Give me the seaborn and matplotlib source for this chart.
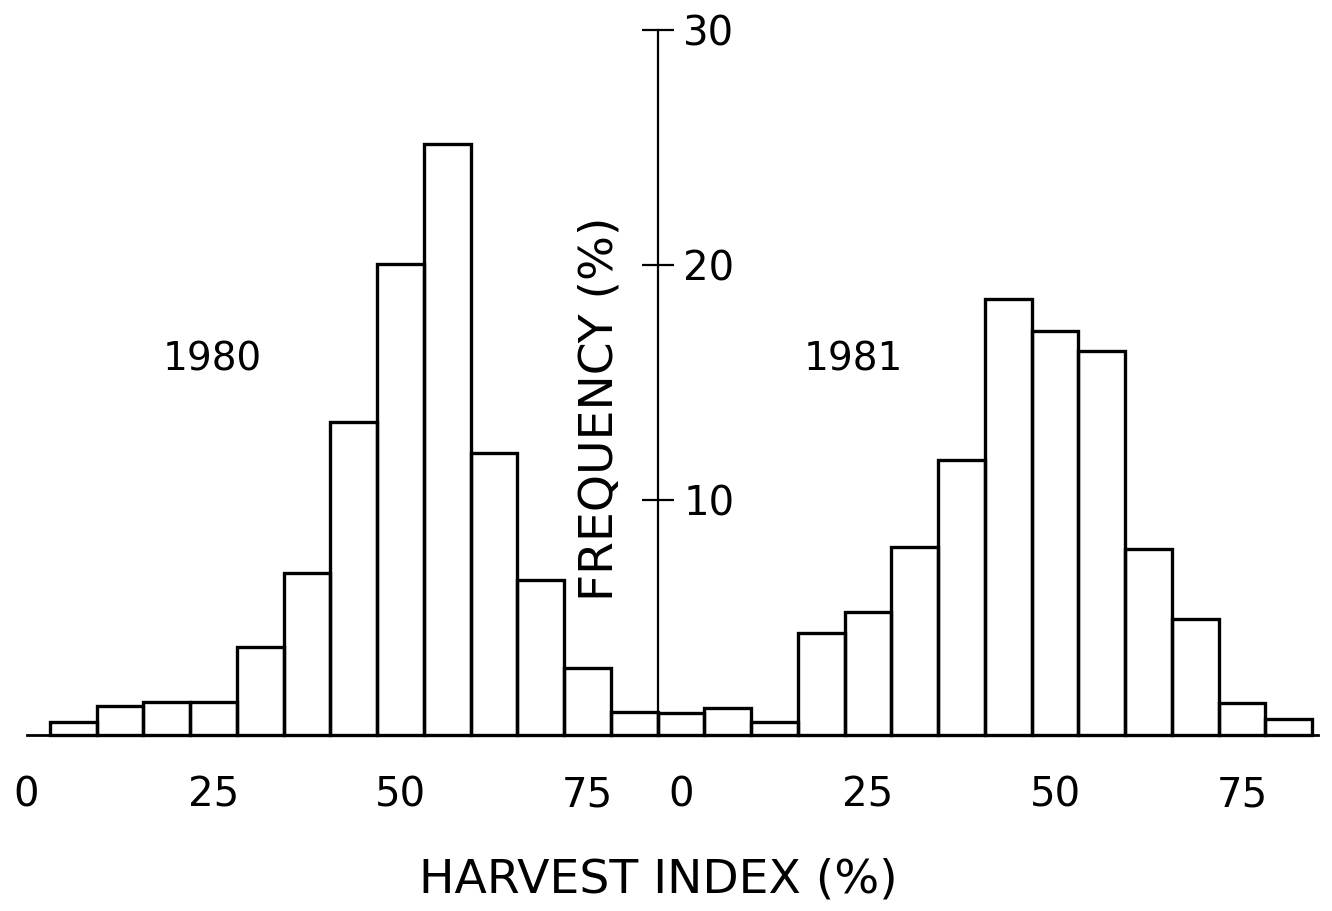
import numpy as np
import pandas as pd
import matplotlib
matplotlib.use("Agg")
import matplotlib.pyplot as plt
import seaborn as sns

# ---- data ----
bin_width = 6.25
hi_1980 = [6.25, 12.5, 18.75, 25.0, 31.25, 37.5, 43.75, 50.0, 56.25, 62.5, 68.75, 75.0, 81.25]
freq_1980 = [0.55, 1.25, 1.42, 1.42, 3.75, 6.9, 13.3, 20.05, 25.15, 12.0, 6.6, 2.85, 0.97]
hi_1981 = [0.0, 6.25, 12.5, 18.75, 25.0, 31.25, 37.5, 43.75, 50.0, 56.25, 62.5, 68.75, 75.0, 81.25]
freq_1981 = [0.93, 1.13, 0.54, 4.33, 5.22, 7.99, 11.72, 18.54, 17.2, 16.32, 7.91, 4.94, 1.36, 0.67]
x_ticks = [0, 25, 50, 75]
x_ticklabels = ["0", "25", "50", "75"]
y_ticks = [10, 20, 30]
y_ticklabels = ["10", "20", "30"]
panel_offset = 87.5  # position of the 1981 panel origin on the shared axis

sns.set_style("white")
plt.rcParams["font.family"] = ["DejaVu Sans"]
plt.rcParams["text.color"] = "black"
plt.rcParams["xtick.color"] = "black"
plt.rcParams["ytick.color"] = "black"

fig = plt.figure(figsize=(13.32, 9.11), dpi=100)
ax = fig.add_axes([0, 0, 1, 1])

def edges(centers, shift=0.0):
    c = np.asarray(centers, dtype=float) + shift
    return [float(v) for v in np.append(c - bin_width / 2, c[-1] + bin_width / 2)]

df80 = pd.DataFrame({"hi": np.asarray(hi_1980, dtype=float), "freq": freq_1980})
df81 = pd.DataFrame({"hi": np.asarray(hi_1981, dtype=float) + panel_offset, "freq": freq_1981})

sns.histplot(data=df80, x="hi", weights="freq", bins=edges(hi_1980),
             fill=False, color="black", linewidth=2.4, ax=ax)
sns.histplot(data=df81, x="hi", weights="freq", bins=edges(hi_1981, panel_offset),
             fill=False, color="black", linewidth=2.4, ax=ax)

ax.set_xlim(-3.543, 174.53)
ax.set_ylim(-7.489, 31.277)
ax.set_xlabel("")
ax.set_ylabel("")

# spines
for s in ["top", "left"]:
    ax.spines[s].set_visible(False)
ax.spines["bottom"].set_position(("data", 0))
ax.spines["bottom"].set_bounds(0, 172.6)
ax.spines["bottom"].set_linewidth(2.0)
ax.spines["right"].set_position(("data", 84.375))
ax.spines["right"].set_bounds(0, 30)
ax.spines["right"].set_linewidth(1.6)
for s in ax.spines.values():
    s.set_color("black")

# x ticks (two panels)
xt = list(x_ticks) + [t + panel_offset for t in x_ticks]
ax.set_xticks(xt)
ax.set_xticklabels(x_ticklabels + x_ticklabels)
ax.tick_params(axis="x", direction="out", length=20, width=1.6, pad=9,
               labelsize=29, colors="black")

# y ticks on the central axis
ax.yaxis.tick_right()
ax.set_yticks(y_ticks)
ax.set_yticklabels(y_ticklabels)
ax.tick_params(axis="y", direction="inout", length=23, width=1.6, pad=7,
               labelsize=29, colors="black")

# texts
ax.text(24.9, 16.0, "1980", fontsize=28, ha="center", va="center", color="black")
ax.text(panel_offset + 23.0, 16.0, "1981", fontsize=28, ha="center", va="center",
        color="black")
ax.text(76.7, 13.9, "FREQUENCY (%)", fontsize=34, rotation=90,
        ha="center", va="center", color="black")
fig.text(658 / 1332, 1 - 880 / 911, "HARVEST INDEX (%)", fontsize=34,
         ha="center", va="center", color="black")

fig.savefig("out.png", dpi=100, facecolor="white")
